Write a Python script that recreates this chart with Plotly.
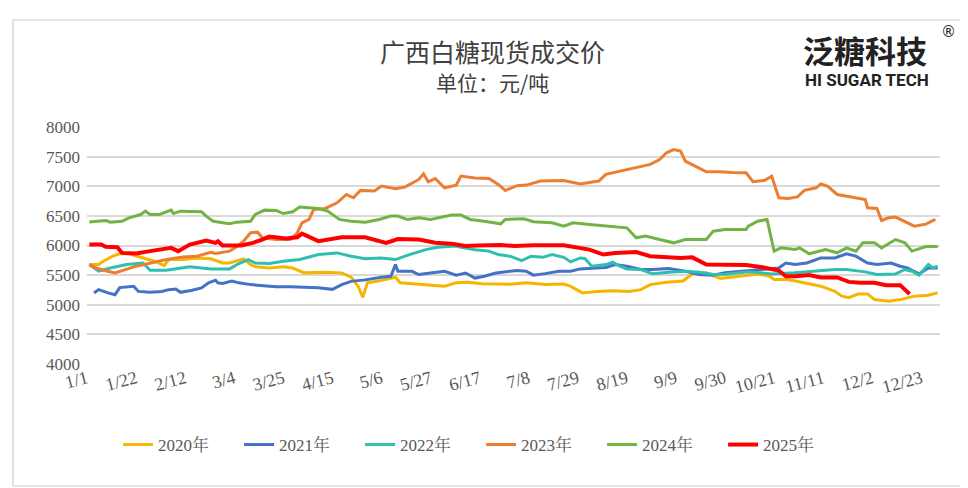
import plotly.graph_objects as go

# x tick positions (day index from 1/1) and labels
tick_days = [0, 21, 42, 63, 84, 105, 126, 147, 168, 189, 210, 231, 252, 273, 294, 315, 336, 357]
tick_labels = ["1/1", "1/22", "2/12", "3/4", "3/25", "4/15", "5/6", "5/27", "6/17", "7/8",
               "7/29", "8/19", "9/9", "9/30", "10/21", "11/11", "12/2", "12/23"]

# 2020
d2020 = [1, 5, 7, 11, 14, 18, 24, 29, 33, 35, 41, 47, 53, 58, 61, 67, 70, 72, 78, 84, 88, 92,
         93, 102, 109, 113, 116, 118, 120, 124, 132, 134, 140, 145, 153, 158, 163, 169, 176, 181,
         188, 196, 204, 207, 212, 218, 225, 232, 237, 241, 248, 255, 259, 265, 271, 276, 282, 287,
         292, 294, 300, 307, 314, 320, 323, 326, 330, 334, 337, 343, 348, 354, 360, 364]
v2020 = [5678, 5678, 5735, 5820, 5860, 5860, 5790, 5735, 5660, 5763, 5763, 5790, 5775, 5705, 5705,
         5775, 5678, 5640, 5620, 5640, 5620, 5560,
         5538, 5550, 5538, 5465, 5313, 5127, 5370, 5395, 5465, 5370, 5355, 5335, 5313, 5370, 5380,
         5355, 5355, 5345,
         5370, 5340, 5350, 5310, 5200, 5225, 5235, 5225, 5255, 5340, 5380, 5400, 5520, 5540, 5445,
         5465, 5500, 5520,
         5482, 5425, 5425, 5370, 5313, 5228, 5145, 5120, 5183, 5183, 5087, 5060, 5087, 5145, 5160,
         5200]

# 2021
d2021 = [3, 5, 9, 12, 14, 20, 22, 27, 32, 35, 38, 40, 45, 49, 52, 55, 56, 58, 62, 65, 70, 75, 81,
         87, 91, 99, 105, 109, 113, 119, 126, 130, 132, 133, 139, 142, 147, 153, 158, 162, 166, 170,
         175, 179, 184, 188, 191, 196, 202, 207, 211, 218, 222, 226, 231, 237, 242, 249, 256, 262,
         268, 273, 281, 288, 296, 299, 303, 308, 314, 320, 325, 329, 334, 338, 344, 348, 351, 356,
         360, 364]
v2021 = [5200, 5255, 5200, 5170, 5290, 5310, 5225, 5210, 5225, 5255, 5265, 5210, 5245, 5285, 5370,
         5415, 5370, 5360, 5400, 5370, 5340, 5325, 5305,
         5305, 5300, 5285, 5260, 5340, 5395, 5420, 5465, 5480, 5678, 5565, 5565, 5510, 5535, 5565,
         5500, 5535, 5450, 5480,
         5535, 5550, 5580, 5566, 5500, 5525, 5566, 5566, 5605, 5620, 5630, 5678, 5650, 5595, 5595,
         5610, 5566, 5510,
         5500, 5540, 5566, 5595, 5620, 5705, 5678, 5705, 5790, 5790, 5860, 5820, 5705, 5678, 5705,
         5650, 5620, 5520,
         5620, 5620]

# 2022
d2022 = [1, 5, 10, 17, 24, 27, 34, 40, 44, 53, 61, 65, 69, 72, 78, 84, 91, 99, 107, 113, 119, 126,
         132, 138, 145, 150, 158, 160, 166, 172, 176, 181, 186, 190, 195, 199, 204, 207, 211, 213,
         216, 222, 225, 228, 231, 237, 242, 249, 256, 262, 268, 273, 283, 288, 293, 303, 311, 320,
         325, 333, 338, 346, 350, 353, 356, 360, 362, 364]
v2022 = [5678, 5566, 5620, 5678, 5705, 5583, 5583, 5620, 5640, 5605, 5605, 5695, 5763, 5705, 5695,
         5735, 5763, 5847, 5875, 5820, 5775, 5790,
         5763, 5847, 5930, 5970, 5990, 5970, 5930, 5905, 5847, 5820, 5745, 5820, 5800, 5847, 5800,
         5723, 5790, 5780,
         5650, 5678, 5720, 5650, 5605, 5595, 5525, 5550, 5566, 5550, 5510, 5515, 5555, 5540, 5520,
         5540, 5566, 5595,
         5595, 5555, 5510, 5520, 5595, 5566, 5500, 5678, 5620, 5650]

# 2023
d2023 = [1, 4, 7, 12, 20, 27, 34, 41, 47, 53, 55, 61, 64, 67, 70, 73, 75, 81, 87, 90, 92, 95, 97,
         102, 107, 111, 114, 117, 123, 126, 132, 136, 142, 144, 146, 149, 153, 158, 160, 166, 172,
         176, 179, 184, 188, 194, 204, 211, 219, 222, 228, 234, 241, 245, 248, 251, 254, 256, 261,
         265, 271, 276, 282, 285, 290, 293, 296, 300, 304, 307, 312, 314, 317, 321, 327, 333, 334,
         338, 340, 343, 346, 350, 354, 359, 363]
v2023 = [5678, 5620, 5583, 5538, 5640, 5705, 5763, 5808, 5820, 5887, 5865, 5905, 5977, 6073, 6215,
         6225, 6130, 6100, 6100, 6215, 6383, 6440, 6608,
         6625, 6720, 6861, 6805, 6930, 6920, 7003, 6960, 6985, 7115, 7210, 7075, 7130, 6974, 7016,
         7171, 7140, 7130,
         7030, 6930, 7010, 7020, 7087, 7095, 7040, 7087, 7200, 7255, 7312, 7368, 7450, 7565, 7620,
         7595, 7425, 7320,
         7245, 7245, 7230, 7228, 7076, 7100, 7170, 6805, 6795, 6820, 6930, 6974, 7040, 7000, 6861,
         6820, 6777, 6637,
         6625, 6422, 6467, 6480, 6410, 6327, 6360, 6440]

# 2024
d2024 = [1, 8, 10, 15, 18, 23, 25, 27, 31, 36, 37, 40, 49, 51, 54, 58, 61, 64, 70, 72, 76, 81, 84,
         88, 91, 99, 103, 108, 113, 119, 125, 130, 133, 137, 142, 147, 156, 160, 164, 170, 177, 179,
         184, 187, 191, 199, 204, 208, 215, 222, 231, 235, 239, 245, 251, 256, 265, 268, 273, 282,
         283, 287, 290, 291, 294, 297, 303, 305, 309, 316, 321, 325, 329, 332, 337, 340, 346, 350,
         353, 359, 364]
v2024 = [6395, 6422, 6394, 6410, 6467, 6523, 6580, 6523, 6523, 6597, 6540, 6580, 6570, 6495, 6410,
         6383, 6366, 6394, 6410, 6523, 6597, 6590, 6540,
         6570, 6650, 6625, 6580, 6440, 6410, 6394, 6440, 6496, 6496, 6440, 6467, 6440, 6513, 6513,
         6440, 6410, 6366, 6440,
         6440, 6450, 6400, 6383, 6327, 6383, 6355, 6327, 6298, 6130, 6158, 6100, 6045, 6100, 6100,
         6242, 6270, 6270,
         6327, 6410, 6440, 6440, 5905, 5960, 5933, 5960, 5860, 5933, 5877, 5960, 5905, 6045, 6045,
         5960, 6100, 6045,
         5905, 5983, 5983]

# 2025
d2025 = [1, 6, 8, 13, 15, 21, 27, 36, 39, 44, 51, 55, 56, 58, 66, 71, 75, 78, 85, 90, 92, 99, 109,
         119, 128, 133, 142, 149, 156, 162, 167, 173, 177, 183, 191, 204, 209, 215, 221, 226, 235,
         241, 254, 259, 265, 271, 276, 282, 289, 296, 299, 303, 309, 314, 321, 326, 331, 337, 342,
         348, 350, 352]
v2025 = [6016, 6016, 5977, 5970, 5875, 5865, 5905, 5960, 5905, 6016, 6084, 6045, 6070, 6000, 6000,
         6045, 6100, 6150, 6120, 6140, 6200, 6073, 6140,
         6140, 6045, 6110, 6100, 6045, 6030, 5990, 6000, 6000, 6010, 5990, 6005, 6005, 5970, 5930,
         5847, 5875, 5890,
         5820, 5790, 5800, 5678, 5678, 5678, 5670, 5634, 5577, 5482, 5482, 5500, 5460, 5460, 5386,
         5370, 5370, 5330,
         5330, 5255, 5183]

series = [
    ("2020年", d2020, v2020, "#F7B500", 3.0),
    ("2021年", d2021, v2021, "#4472C4", 3.0),
    ("2022年", d2022, v2022, "#2FBFB0", 3.0),
    ("2023年", d2023, v2023, "#ED7D31", 3.0),
    ("2024年", d2024, v2024, "#72B443", 3.0),
    ("2025年", d2025, v2025, "#FF0000", 4.0),
]

NUMFONT = '"Liberation Serif", "Noto Serif CJK SC", "Noto Sans CJK SC", serif'

fig = go.Figure()
for name, dd, vv, color, w in series:
    fig.add_trace(go.Scatter(x=dd, y=vv, mode="lines", name=name,
                             line=dict(color=color, width=w)))

W, H = 968, 488
L, R, T, B = 79, 36, 119, 132
pw, ph = W - L - R, H - T - B


def px(x):
    return (x - L) / pw


def py(y):
    return (H - B - y) / ph


fig.update_layout(
    width=W, height=H,
    margin=dict(l=L, r=R, t=T, b=B),
    paper_bgcolor="white", plot_bgcolor="white",
    showlegend=True,
    legend=dict(orientation="h", x=0.462, xanchor="center", y=py(437), yanchor="middle",
                font=dict(family=NUMFONT, size=17, color="#595959"),
                itemwidth=30, entrywidth=76, entrywidthmode="pixels", tracegroupgap=0),
    xaxis=dict(range=[0, 365], tickmode="array", tickvals=tick_days, ticktext=tick_labels,
               tickangle=-15, showgrid=False, zeroline=False, showline=False, ticks="",
               tickfont=dict(family=NUMFONT, size=18, color="#595959")),
    yaxis=dict(range=[4000, 8000], dtick=500, showgrid=True, gridcolor="#D9D9D9", gridwidth=1.5,
               zeroline=False, showline=False, ticks="", ticklabelstandoff=6,
               tickfont=dict(family=NUMFONT, size=17, color="#595959")),
    shapes=[dict(type="rect", xref="paper", yref="paper",
                 x0=px(5), x1=px(957), y0=py(478), y1=py(12),
                 line=dict(color="#D0D0D0", width=1.2), fillcolor="rgba(0,0,0,0)", layer="below")],
    annotations=[
        dict(text="广西白糖现货成交价", xref="paper", yref="paper", x=px(484), y=py(43),
             showarrow=False, xanchor="center", yanchor="middle",
             font=dict(family="Noto Sans CJK SC", size=25, color="#404040")),
        dict(text="单位：元/吨", xref="paper", yref="paper", x=px(484), y=py(74),
             showarrow=False, xanchor="center", yanchor="middle",
             font=dict(family="Noto Sans CJK SC", size=21, color="#404040")),
        dict(text="<b>泛糖科技</b>", xref="paper", yref="paper", x=px(857), y=py(41),
             showarrow=False, xanchor="center", yanchor="middle",
             font=dict(family="Noto Sans CJK SC", size=31, color="#222222")),
        dict(text="®", xref="paper", yref="paper", x=px(941), y=py(24),
             showarrow=False, xanchor="center", yanchor="middle",
             font=dict(family="DejaVu Sans", size=15, color="#222222")),
        dict(text="<b>HI SUGAR TECH</b>", xref="paper", yref="paper", x=px(859), y=py(72),
             showarrow=False, xanchor="center", yanchor="middle",
             font=dict(family="Roboto", size=17, color="#222222")),
    ],
)

fig.write_html("out.html")
